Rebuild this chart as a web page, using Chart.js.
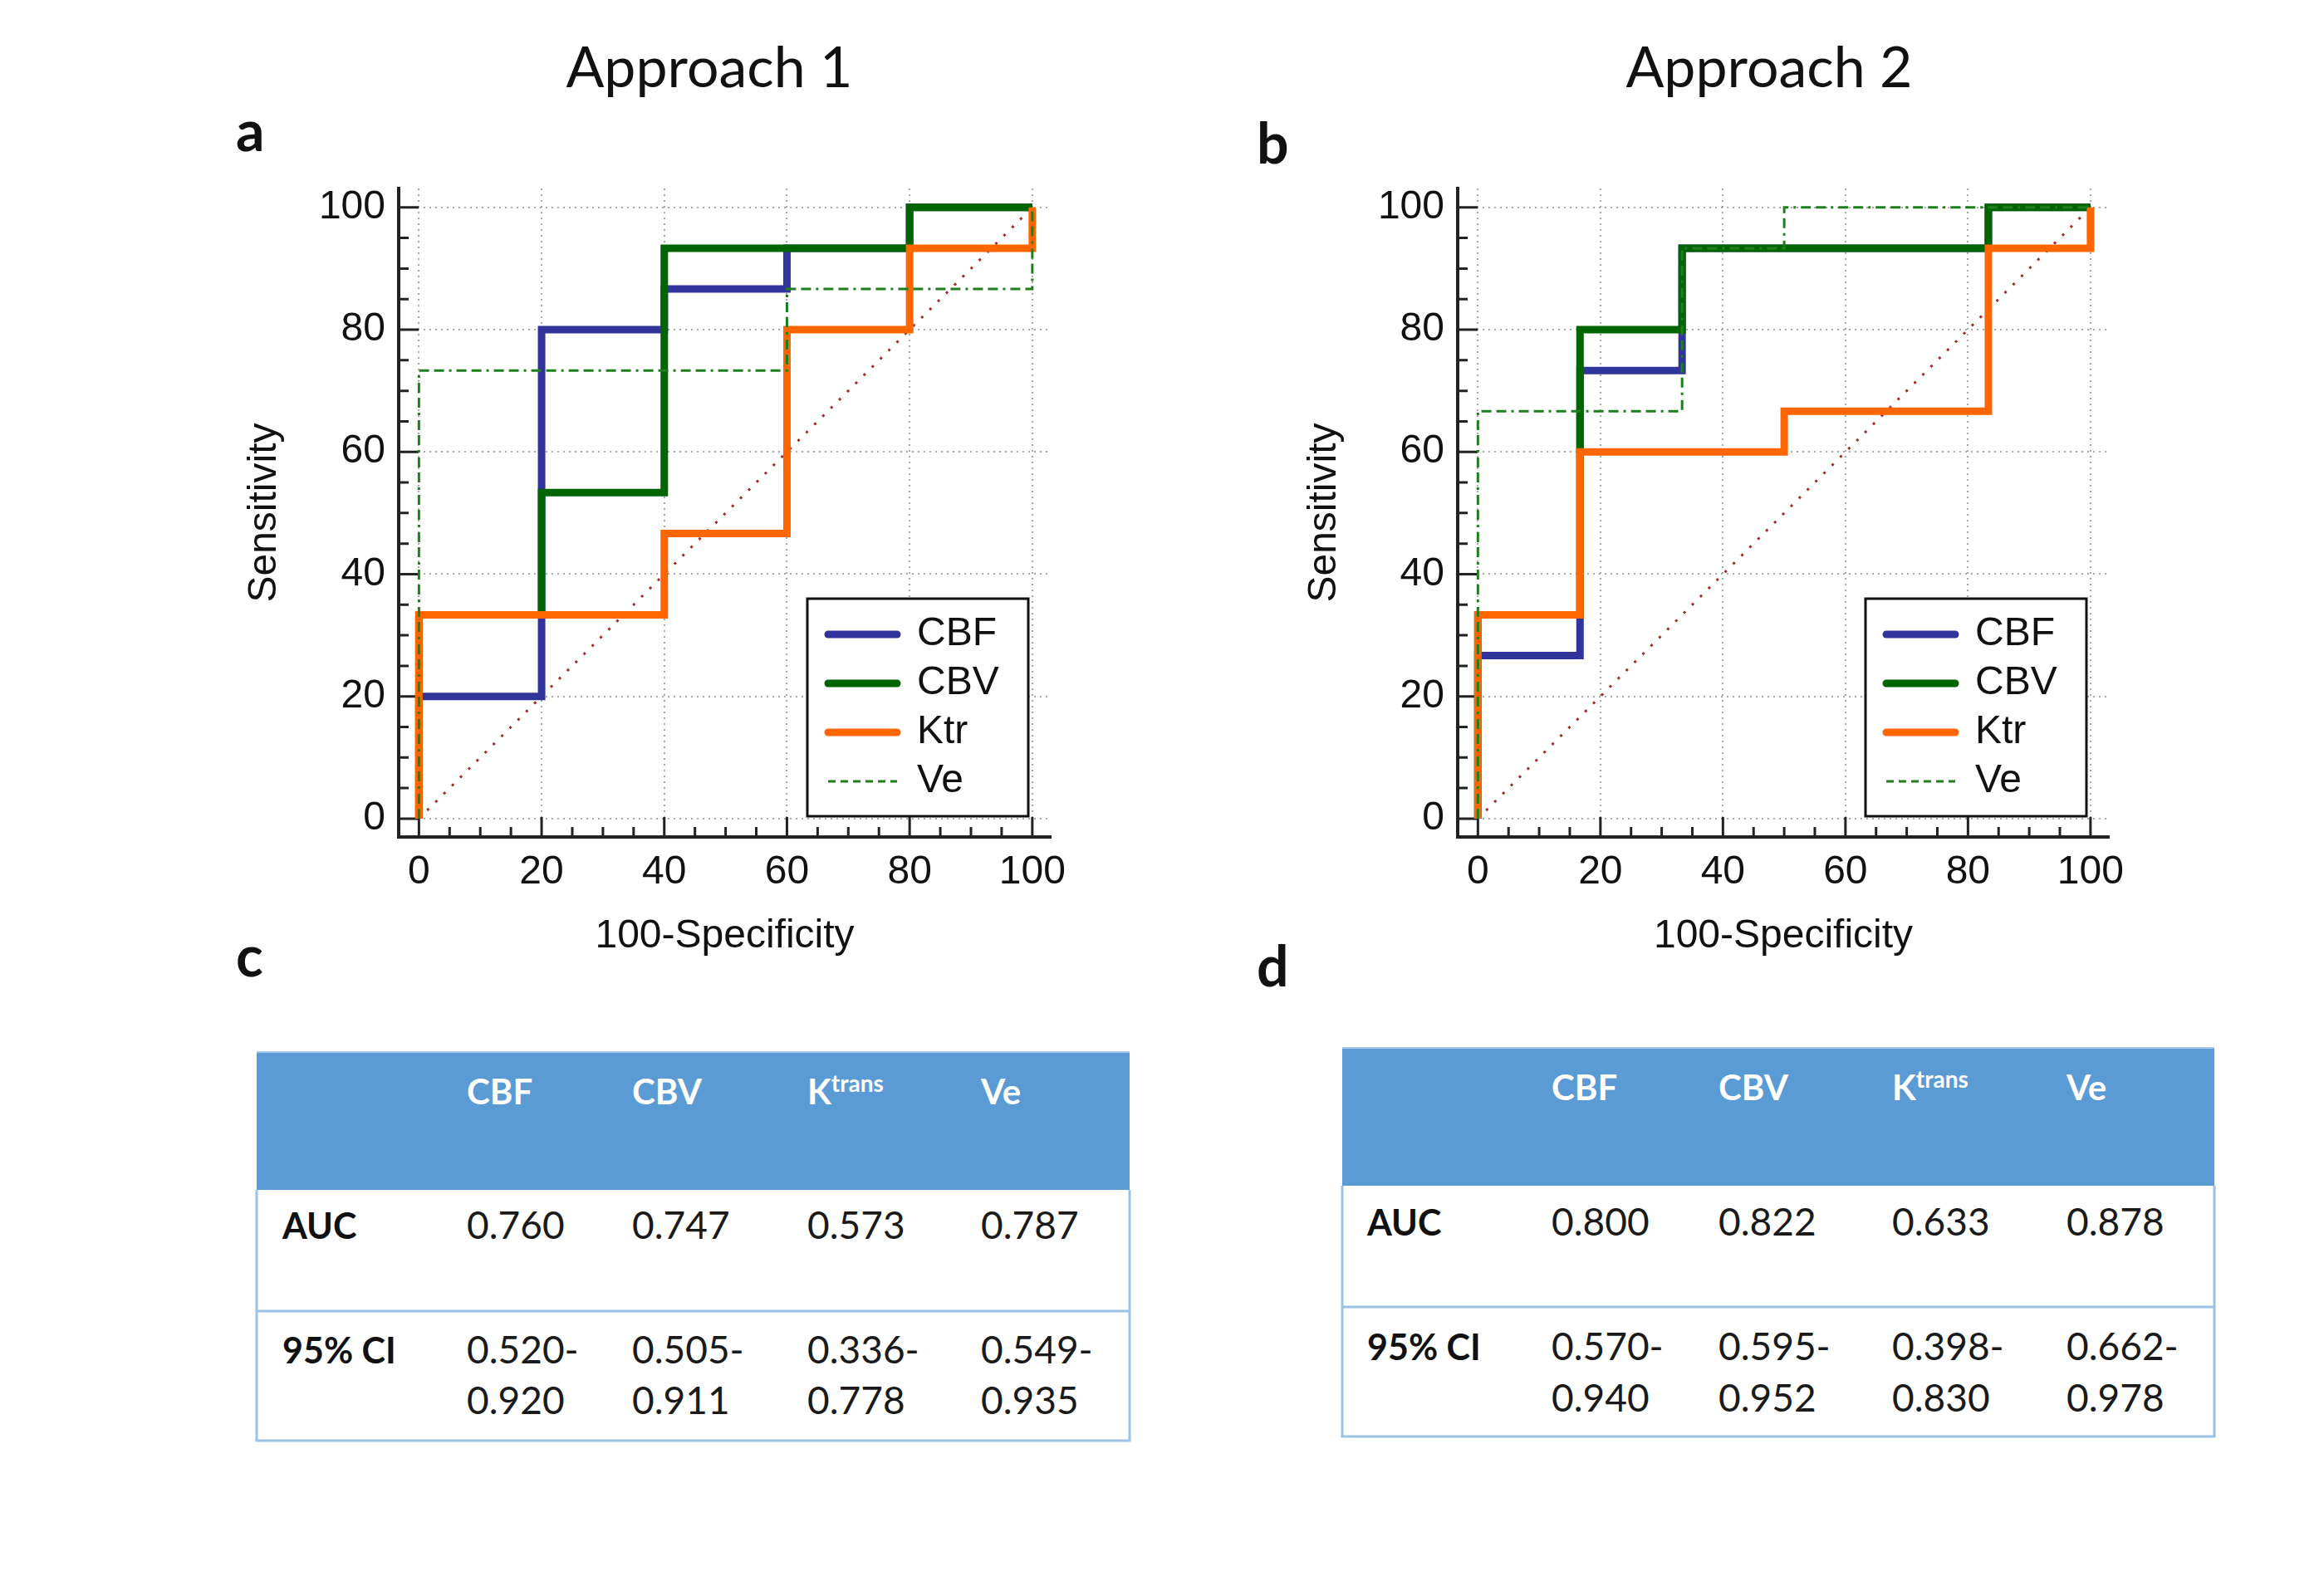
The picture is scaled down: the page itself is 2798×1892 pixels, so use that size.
<!DOCTYPE html>
<html>
<head>
<meta charset="utf-8">
<script src="https://cdn.jsdelivr.net/npm/chart.js@4"></script>
<style>
  html,body{margin:0;padding:0;background:#fff;}
  body{width:2798px;height:1892px;position:relative;overflow:hidden;}
  canvas{position:absolute;}
  #overlay{position:absolute;left:0;top:0;}
</style>
</head>
<body>
<svg id="overlay" width="2798" height="1892" xmlns="http://www.w3.org/2000/svg"></svg>
<canvas id="chartA" width="1060" height="970" style="left:290px;top:190px;width:1060px;height:970px"></canvas>
<canvas id="chartB" width="1060" height="970" style="left:1566px;top:190px;width:1060px;height:970px"></canvas>
<script>
// ---------------- DATA ----------------
const panelTitles = ['Approach 1', 'Approach 2'];
const seriesLabels = ['CBF', 'CBV', 'Ktr', 'Ve'];
const xTitle = '100-Specificity';
const yTitle = 'Sensitivity';
const majorTicks = [0, 20, 40, 60, 80, 100];
const minorTicks = [0, 5, 10, 15, 20, 25, 30, 35, 40, 45, 50, 55, 60, 65, 70, 75, 80, 85, 90, 95, 100];

// Approach 1 ROC step vertices (100-Specificity, Sensitivity)
const a1_CBF_x = [0, 0, 20, 20, 40, 40, 60, 60, 80, 80, 100];
const a1_CBF_y = [0, 20, 20, 80, 80, 86.67, 86.67, 93.33, 93.33, 100, 100];
const a1_CBV_x = [0, 0, 20, 20, 40, 40, 80, 80, 100];
const a1_CBV_y = [0, 33.33, 33.33, 53.33, 53.33, 93.33, 93.33, 100, 100];
const a1_Ktr_x = [0, 0, 40, 40, 60, 60, 80, 80, 100, 100];
const a1_Ktr_y = [0, 33.33, 33.33, 46.67, 46.67, 80, 80, 93.33, 93.33, 100];
const a1_Ve_x  = [0, 0, 60, 60, 100, 100];
const a1_Ve_y  = [0, 73.33, 73.33, 86.67, 86.67, 100];

// Approach 2 ROC step vertices
const a2_CBF_x = [0, 0, 16.67, 16.67, 33.33, 33.33, 83.33, 83.33, 100];
const a2_CBF_y = [0, 26.67, 26.67, 73.33, 73.33, 93.33, 93.33, 100, 100];
const a2_CBV_x = [0, 0, 16.67, 16.67, 33.33, 33.33, 83.33, 83.33, 100];
const a2_CBV_y = [0, 33.33, 33.33, 80, 80, 93.33, 93.33, 100, 100];
const a2_Ktr_x = [0, 0, 16.67, 16.67, 50, 50, 83.33, 83.33, 100, 100];
const a2_Ktr_y = [0, 33.33, 33.33, 60, 60, 66.67, 66.67, 93.33, 93.33, 100];
const a2_Ve_x  = [0, 0, 33.33, 33.33, 50, 50, 100];
const a2_Ve_y  = [0, 66.67, 66.67, 93.33, 93.33, 100, 100];

// reference diagonal
const diag_x = [0, 100];
const diag_y = [0, 100];

// Tables
const tableHeads = ['CBF', 'CBV', 'K', 'Ve'];
const tableHeadSup = ['', '', 'trans', ''];
const rowLabels = ['AUC', '95% CI'];
const auc1 = ['0.760', '0.747', '0.573', '0.787'];
const ciLow1 = ['0.520', '0.505', '0.336', '0.549'];
const ciHigh1 = ['0.920', '0.911', '0.778', '0.935'];
const auc2 = ['0.800', '0.822', '0.633', '0.878'];
const ciLow2 = ['0.570', '0.595', '0.398', '0.662'];
const ciHigh2 = ['0.940', '0.952', '0.830', '0.978'];

// ---------------- STYLE ----------------
const colors = { CBF: '#31349b', CBV: '#006400', Ktr: '#ff6600', Ve: '#1f7f1f', diag: '#a52a2a' };
const chartFont = 'Liberation Sans, Arial, sans-serif';
const textFont = 'Lato, Calibri, sans-serif';

function pts(xs, ys) { return xs.map((x, i) => ({ x: x, y: ys[i] })); }

function makeDatasets(cbf, cbv, ktr, ve) {
  const thick = { borderWidth: 9, pointRadius: 0, tension: 0, fill: false, borderJoinStyle: 'miter', borderCapStyle: 'butt' };
  return [
    Object.assign({ label: 'CBF', data: cbf, borderColor: colors.CBF, order: 3 }, thick),
    Object.assign({ label: 'CBV', data: cbv, borderColor: colors.CBV, order: 2 }, thick),
    Object.assign({ label: 'Ktr', data: ktr, borderColor: colors.Ktr, order: 1 }, thick),
    { label: 'Ve', data: ve, borderColor: colors.Ve, borderWidth: 3, borderDash: [12, 6, 12, 6, 3, 6], pointRadius: 0, tension: 0, fill: false, order: 0 },
    { label: '_diag', data: pts(diag_x, diag_y), borderColor: colors.diag, borderWidth: 3, borderDash: [3, 11], pointRadius: 0, tension: 0, fill: false, order: 4 }
  ];
}

const tickMarks = {
  id: 'tickMarks',
  beforeDatasetsDraw(chart) {
    const { ctx, chartArea: a, scales: { x, y } } = chart;
    ctx.save();
    ctx.strokeStyle = '#222';
    ctx.lineWidth = 3;
    ctx.beginPath();
    minorTicks.forEach(v => {
      const len = majorTicks.includes(v) ? 24 : 12;
      const px = x.getPixelForValue(v);
      ctx.moveTo(px, a.bottom); ctx.lineTo(px, a.bottom - len);
      const py = y.getPixelForValue(v);
      ctx.moveTo(a.left, py); ctx.lineTo(a.left + len, py);
    });
    ctx.stroke();
    ctx.restore();
  }
};

const boxLegend = {
  id: 'boxLegend',
  afterDraw(chart) {
    const { ctx, chartArea: a } = chart;
    const left = a.right - 293, right = a.right - 27;
    const top = a.bottom - 287, bottom = a.bottom - 25;
    ctx.save();
    ctx.fillStyle = '#fff';
    ctx.fillRect(left, top, right - left, bottom - top);
    ctx.strokeStyle = '#111';
    ctx.lineWidth = 3;
    ctx.setLineDash([]);
    ctx.strokeRect(left, top, right - left, bottom - top);
    const rows = [43, 102, 161, 220];
    chart.data.datasets.filter(d => !d.label.startsWith('_')).forEach((d, i) => {
      const yy = top + rows[i];
      ctx.beginPath();
      ctx.strokeStyle = d.borderColor;
      ctx.lineWidth = d.borderWidth;
      ctx.lineCap = d.borderWidth > 5 ? 'round' : 'butt';
      ctx.setLineDash(d.borderDash ? [9, 6] : []);
      ctx.moveTo(left + 25, yy); ctx.lineTo(left + 108, yy);
      ctx.stroke();
      ctx.setLineDash([]);
      ctx.fillStyle = '#111';
      ctx.font = '48px ' + chartFont;
      ctx.textBaseline = 'middle';
      ctx.textAlign = 'left';
      ctx.fillText(d.label, left + 132, yy);
    });
    ctx.restore();
  }
};

function axis(isX, yWidth) {
  return {
    type: 'linear',
    min: isX ? -3.3 : -3,
    max: isX ? 103 : 103.1,
    afterBuildTicks: s => { s.ticks = minorTicks.map(v => ({ value: v })); },
    afterFit: s => {
      if (isX) { s.height = 152; } else { s.width = yWidth; }
      s.paddingTop = 0; s.paddingBottom = 0; s.paddingLeft = 0; s.paddingRight = 0;
    },
    ticks: {
      autoSkip: false, maxRotation: 0, minRotation: 0,
      padding: isX ? 14 : 16,
      color: '#111',
      font: { family: chartFont, size: 48 },
      callback: v => (majorTicks.includes(v) ? String(v) : '')
    },
    grid: {
      drawTicks: false,
      lineWidth: 2,
      color: c => (c.tick && majorTicks.includes(c.tick.value) ? '#a8a8a8' : 'rgba(0,0,0,0)')
    },
    border: { display: true, color: '#222', width: 4, dash: [2, 5] },
    title: {
      display: true,
      text: isX ? xTitle : yTitle,
      color: '#111',
      font: { family: chartFont, size: 48 },
      padding: isX ? { top: 0, bottom: 3 } : { top: 0, bottom: 0 }
    }
  };
}

function makeChart(id, datasets, yWidth, padRight) {
  return new Chart(document.getElementById(id), {
    type: 'line',
    data: { datasets: datasets },
    options: {
      responsive: false,
      animation: false,
      devicePixelRatio: 1,
      layout: { padding: { top: 37, left: 0, right: padRight, bottom: 0 } },
      plugins: { legend: { display: false }, tooltip: { enabled: false } },
      scales: { x: axis(true, yWidth), y: axis(false, yWidth) }
    },
    plugins: [tickMarks, boxLegend]
  });
}

makeChart('chartA', makeDatasets(pts(a1_CBF_x, a1_CBF_y), pts(a1_CBV_x, a1_CBV_y), pts(a1_Ktr_x, a1_Ktr_y), pts(a1_Ve_x, a1_Ve_y)), 190, 85);
makeChart('chartB', makeDatasets(pts(a2_CBF_x, a2_CBF_y), pts(a2_CBV_x, a2_CBV_y), pts(a2_Ktr_x, a2_Ktr_y), pts(a2_Ve_x, a2_Ve_y)), 189, 87);

// ---------------- SVG text & tables ----------------
const NS = 'http://www.w3.org/2000/svg';
const svg = document.getElementById('overlay');
function el(tag, attrs, text) {
  const e = document.createElementNS(NS, tag);
  for (const k in attrs) e.setAttribute(k, attrs[k]);
  if (text !== undefined) e.textContent = text;
  svg.appendChild(e);
  return e;
}
function txt(x, y, s, size, opts) {
  opts = opts || {};
  return el('text', Object.assign({ x: x, y: y, 'font-family': textFont, 'font-size': size, fill: opts.fill || '#111',
    'font-weight': opts.bold ? 'bold' : 'normal', 'text-anchor': opts.anchor || 'start' }), s);
}

// titles & panel letters
txt(854, 105, panelTitles[0], 68, { anchor: 'middle' });
txt(2130, 105, panelTitles[1], 68, { anchor: 'middle' });
txt(284, 182, 'a', 68, { bold: true });
txt(1513, 197, 'b', 68, { bold: true });
txt(284, 1176, 'c', 68, { bold: true });
txt(1513, 1188, 'd', 68, { bold: true });

function drawTable(g, auc, lo, hi) {
  el('rect', { x: g.left, y: g.top, width: g.right - g.left, height: g.head - g.top, fill: '#5b9bd5' });
  const lc = '#9cc2e5';
  el('line', { x1: g.left, y1: g.head, x2: g.left, y2: g.bottom, stroke: lc, 'stroke-width': 3 });
  el('line', { x1: g.right, y1: g.head, x2: g.right, y2: g.bottom, stroke: lc, 'stroke-width': 3 });
  el('line', { x1: g.left - 1.5, y1: g.bottom, x2: g.right + 1.5, y2: g.bottom, stroke: lc, 'stroke-width': 3 });
  el('line', { x1: g.left, y1: g.div, x2: g.right, y2: g.div, stroke: lc, 'stroke-width': 3 });
  el('line', { x1: g.left, y1: g.top, x2: g.right, y2: g.top, stroke: '#a9c9ea', 'stroke-width': 2 });
  tableHeads.forEach((h, i) => {
    const t = txt(g.cols[i], g.yHead, h, 42, { bold: true, fill: '#ffffff' });
    if (tableHeadSup[i]) {
      const sp = document.createElementNS(NS, 'tspan');
      sp.setAttribute('font-size', 28);
      sp.setAttribute('dy', -15);
      sp.textContent = tableHeadSup[i];
      t.appendChild(sp);
    }
  });
  txt(g.label, g.yAuc, rowLabels[0], 43, { bold: true });
  txt(g.label, g.yCi1, rowLabels[1], 43, { bold: true });
  auc.forEach((v, i) => {
    txt(g.cols[i], g.yAuc, v, 46, { fill: '#1a1a1a' });
    txt(g.cols[i], g.yCi1, lo[i] + '-', 46, { fill: '#1a1a1a' });
    txt(g.cols[i], g.yCi2, hi[i], 46, { fill: '#1a1a1a' });
  });
}

drawTable({ left: 309, right: 1360, top: 1267, head: 1433, div: 1579, bottom: 1735,
  label: 340, cols: [562, 761, 972, 1181], yHead: 1330, yAuc: 1492, yCi1: 1642, yCi2: 1703 }, auc1, ciLow1, ciHigh1);
drawTable({ left: 1616, right: 2666, top: 1262, head: 1428, div: 1574, bottom: 1730,
  label: 1646, cols: [1868, 2069, 2278, 2488], yHead: 1325, yAuc: 1488, yCi1: 1638, yCi2: 1700 }, auc2, ciLow2, ciHigh2);
</script>
</body>
</html>
